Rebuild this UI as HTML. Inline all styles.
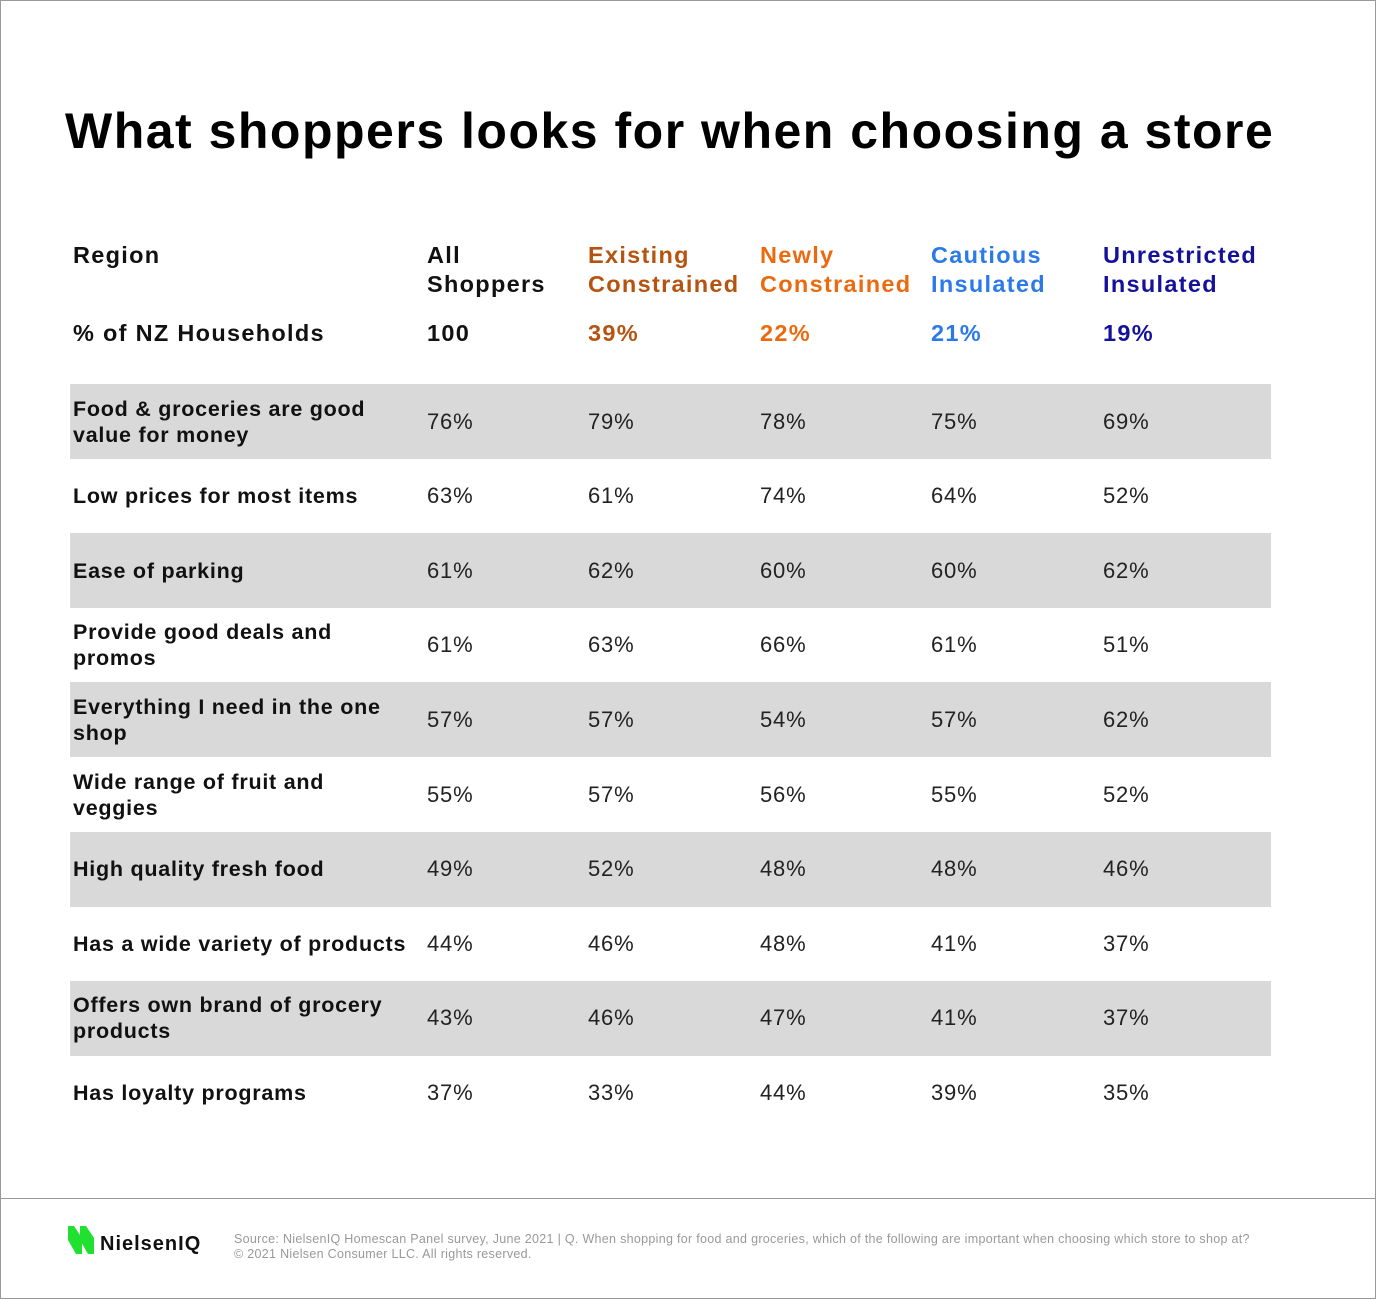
<!DOCTYPE html>
<html><head><meta charset="utf-8">
<style>
*{margin:0;padding:0;box-sizing:border-box}
body{width:1376px;height:1300px;background:#fff;font-family:"Liberation Sans",sans-serif;position:relative;overflow:hidden;color:#111}
.frame{position:absolute;left:0;top:0;width:1376px;height:1299px;border:1px solid #999}
.sep{position:absolute;left:1px;right:1px;top:1198px;height:1px;background:#999}
.t{position:absolute;white-space:nowrap}
.h{font-weight:bold;font-size:23.5px;line-height:29px;letter-spacing:1.3px}
.row{position:absolute;left:70px;width:1201px;height:75px}
.lab{position:absolute;left:3px;font-weight:bold;font-size:21.5px;line-height:26px;letter-spacing:0.75px;top:50%;transform:translateY(-50%)}
.val{position:absolute;font-size:22px;letter-spacing:0.8px;top:50%;transform:translateY(-50%);color:#222}
</style></head>
<body>
<div class="frame"></div>
<div class="t" style="left:65px;top:102px;font-size:50px;font-weight:bold;letter-spacing:1.5px;color:#000">What shoppers looks for when choosing a store</div>

<div class="t h" style="left:73px;top:241px">Region</div>
<div class="t h" style="left:427px;top:241px">All<br>Shoppers</div>
<div class="t h" style="left:588px;top:241px;color:#b6530f">Existing<br>Constrained</div>
<div class="t h" style="left:760px;top:241px;color:#ec6a0f">Newly<br>Constrained</div>
<div class="t h" style="left:931px;top:241px;color:#2c7ae8">Cautious<br>Insulated</div>
<div class="t h" style="left:1103px;top:241px;color:#14129a">Unrestricted<br>Insulated</div>

<div class="t h" style="left:73px;top:319px">% of NZ Households</div>
<div class="t h" style="left:427px;top:319px">100</div>
<div class="t h" style="left:588px;top:319px;color:#b6530f">39%</div>
<div class="t h" style="left:760px;top:319px;color:#ec6a0f">22%</div>
<div class="t h" style="left:931px;top:319px;color:#2c7ae8">21%</div>
<div class="t h" style="left:1103px;top:319px;color:#14129a">19%</div>

<div id="table"></div>

<div class="sep"></div>
<svg class="t" style="left:66px;top:1224px" width="34" height="32" viewBox="0 0 34 32">
<polygon points="2,2 8,2 16,14 16,30 10,30 2,16" fill="#20e030"/>
<polygon points="14,2 20,2 28,14 28,30 22,30 14,16" fill="#20e030"/>
</svg>
<div class="t" style="left:100px;top:1233px;font-size:20px;letter-spacing:1px;font-weight:bold;color:#111">NielsenIQ</div>
<div class="t" style="left:234px;top:1232px;font-size:12.5px;letter-spacing:0.3px;line-height:15px;color:#999">Source: NielsenIQ Homescan Panel survey, June 2021 | Q. When shopping for food and groceries, which of the following are important when choosing which store to shop at?<br>© 2021 Nielsen Consumer LLC. All rights reserved.</div>

<script>
const labels = ["Food &amp; groceries are good<br>value for money","Low prices for most items","Ease of parking","Provide good deals and<br>promos","Everything I need in the one<br>shop","Wide range of fruit and<br>veggies","High quality fresh food","Has a wide variety of products","Offers own brand of grocery<br>products","Has loyalty programs"];
const allShoppers = [76,63,61,61,57,55,49,44,43,37];
const existingConstrained = [79,61,62,63,57,57,52,46,46,33];
const newlyConstrained = [78,74,60,66,54,56,48,48,47,44];
const cautiousInsulated = [75,64,60,61,57,55,48,41,41,39];
const unrestrictedInsulated = [69,52,62,51,62,52,46,37,37,35];
const shaded = [true,false,true,false,true,false,true,false,true,false];

const series = [allShoppers, existingConstrained, newlyConstrained, cautiousInsulated, unrestrictedInsulated];
const seriesNames = ['all','existing','newly','cautious','unrestricted'];
const colX = [357,518,690,861,1033];
const rowTop = i => 384 + i*74.6;
const table = document.getElementById('table');
labels.forEach((lab,i)=>{
  const r = document.createElement('div');
  r.className='row';
  
  
  r.style.top = rowTop(i)+'px';
  r.style.background = shaded[i] ? '#d9d9d9' : 'transparent';
  const l = document.createElement('div');
  l.className='lab';
  
  
  l.innerHTML = lab;
  r.appendChild(l);
  series.forEach((s,j)=>{
    const v = document.createElement('div');
    v.className='val';
    
    
    v.style.left = colX[j]+'px';
    v.textContent = s[i]+'%';
    r.appendChild(v);
  });
  table.appendChild(r);
});
</script>
</body></html>
